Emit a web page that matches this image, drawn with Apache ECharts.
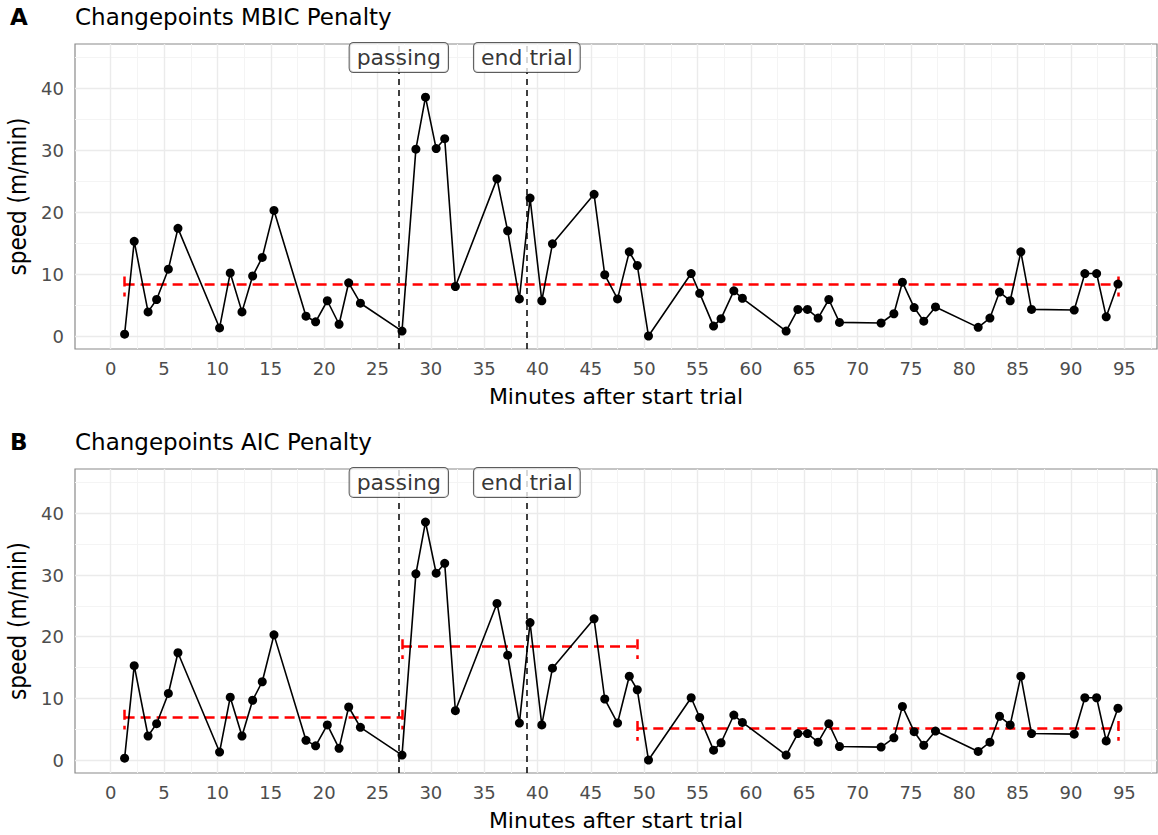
<!DOCTYPE html>
<html>
<head>
<meta charset="utf-8">
<script src="https://cdn.jsdelivr.net/npm/echarts@6/dist/echarts.min.js"></script>
<style>
  html, body { margin: 0; padding: 0; background: #fff; }
  #main { width: 1158px; height: 835px; }
</style>
</head>
<body>
<div id="main"></div>
<script>
// minutes after start and speed (m/min)
var minutes = [1.3, 2.2, 3.5, 4.3, 5.4, 6.3, 10.2, 11.2, 12.3, 13.3, 14.2, 15.3, 18.3, 19.2, 20.3, 21.4, 22.3, 23.4,
  27.3, 28.6, 29.5, 30.5, 31.3, 32.3, 36.2, 37.2, 38.3, 39.3, 40.4, 41.4, 45.3, 46.3, 47.5, 48.6, 49.35,
  50.4, 54.4, 55.2, 56.5, 57.2, 58.4, 59.2, 63.3, 64.4, 65.3, 66.3, 67.3, 68.3, 72.2, 73.4, 74.2, 75.3,
  76.2, 77.3, 81.3, 82.4, 83.3, 84.3, 85.3, 86.3, 90.3, 91.3, 92.4, 93.3, 94.4];
var speed = [0.3, 15.3, 3.9, 5.9, 10.8, 17.4, 1.3, 10.2, 3.9, 9.7, 12.7, 20.3, 3.2, 2.3, 5.7, 1.9, 8.6, 5.3,
  0.8, 30.2, 38.6, 30.3, 31.9, 8.0, 25.4, 17.0, 6.0, 22.3, 5.7, 14.9, 22.9, 9.9, 6.0, 13.6, 11.4,
  0.0, 10.1, 6.9, 1.6, 2.8, 7.3, 6.1, 0.8, 4.3, 4.3, 2.9, 5.9, 2.2, 2.1, 3.6, 8.7, 4.6,
  2.4, 4.7, 1.4, 2.9, 7.1, 5.7, 13.6, 4.3, 4.2, 10.1, 10.1, 3.1, 8.4];

// changepoint segments: [start, end, mean]
var mbicSegments = [[1.3, 94.4, 8.4]];
var aicSegments = [[1.3, 27.3, 6.95], [27.3, 49.35, 18.4], [49.35, 94.4, 5.15]];

var events = [{ name: 'passing', x: 27 }, { name: 'end trial', x: 39 }];
var labelY = 45;

var xTicks = [0, 5, 10, 15, 20, 25, 30, 35, 40, 45, 50, 55, 60, 65, 70, 75, 80, 85, 90, 95];
var xMinor = [2.5, 7.5, 12.5, 17.5, 22.5, 27.5, 32.5, 37.5, 42.5, 47.5, 52.5, 57.5, 62.5, 67.5, 72.5, 77.5, 82.5, 87.5, 92.5, 97.5];
var yTicks = [0, 10, 20, 30, 40];
var yMinor = [5, 15, 25, 35, 45];
var xRange = [-3.35, 98.06];
var yRange = [-2.1, 47.2];

var FONT = 'DejaVu Sans';
var NARROW = "'Liberation Sans Narrow', 'DejaVu Sans Condensed', sans-serif";
var chart = echarts.init(document.getElementById('main'), null, { renderer: 'svg' });

var pts = minutes.map(function (m, i) { return [m, speed[i]]; });

function gridLines(idx) {
  var d = [];
  xMinor.forEach(function (v) { d.push({ xAxis: v, lineStyle: { color: '#f4f4f4', width: 1, type: 'solid' } }); });
  yMinor.forEach(function (v) { d.push({ yAxis: v, lineStyle: { color: '#f4f4f4', width: 1, type: 'solid' } }); });
  xTicks.forEach(function (v) { d.push({ xAxis: v, lineStyle: { color: '#ebebeb', width: 1.4, type: 'solid' } }); });
  yTicks.forEach(function (v) { d.push({ yAxis: v, lineStyle: { color: '#ebebeb', width: 1.4, type: 'solid' } }); });
  return {
    type: 'line', xAxisIndex: idx, yAxisIndex: idx, data: [], z: 0, silent: true,
    markLine: { silent: true, symbol: 'none', label: { show: false }, animation: false, data: d }
  };
}

function segLines(idx, segs) {
  var d = [];
  segs.forEach(function (s) {
    d.push([{ coord: [s[0], s[2]] }, { coord: [s[1], s[2]] }]);
    d.push([{ coord: [s[0], s[2] + 1.2] }, { coord: [s[0], s[2] - 2.0] }]);
    d.push([{ coord: [s[1], s[2] + 1.2] }, { coord: [s[1], s[2] - 2.0] }]);
  });
  return {
    type: 'line', xAxisIndex: idx, yAxisIndex: idx, data: [], z: 5, silent: true,
    markLine: {
      silent: true, symbol: 'none', label: { show: false }, animation: false,
      lineStyle: { color: '#ff0000', width: 2.5, type: [10, 6] }, data: d
    }
  };
}

function eventLines(idx) {
  return {
    type: 'line', xAxisIndex: idx, yAxisIndex: idx, data: [], z: 3, silent: true,
    markLine: {
      silent: true, symbol: 'none', label: { show: false }, animation: false,
      lineStyle: { color: '#000', width: 1.5, type: [6, 5] },
      data: events.map(function (e) { return { xAxis: e.x }; })
    }
  };
}

function eventLabels(idx) {
  return {
    type: 'scatter', xAxisIndex: idx, yAxisIndex: idx, z: 10, symbolSize: 0, clip: false, silent: true,
    data: events.map(function (e) { return { value: [e.x, labelY], name: e.name }; }),
    label: {
      show: true, position: 'inside', formatter: '{b}',
      fontFamily: FONT, fontSize: 22, color: '#000', lineHeight: 24,
      backgroundColor: '#fff', borderColor: '#333', borderWidth: 1, borderRadius: 4,
      padding: [3, 7, 2, 7]
    }
  };
}

function dataSeries(idx) {
  return {
    type: 'line', xAxisIndex: idx, yAxisIndex: idx, z: 8, data: pts,
    symbol: 'circle', symbolSize: 9, showSymbol: true,
    lineStyle: { color: '#000', width: 1.6 },
    itemStyle: { color: '#000' }
  };
}

function xAxis(idx) {
  return {
    type: 'value', gridIndex: idx, min: xRange[0], max: xRange[1],
    name: 'Minutes after start trial', nameLocation: 'middle', nameGap: 36,
    nameTextStyle: { fontFamily: FONT, fontSize: 22, color: '#000' },
    axisLine: { show: false },
    splitLine: { show: false },
    axisTick: { show: true, customValues: xTicks, length: 5, lineStyle: { color: '#333' } },
    axisLabel: { customValues: xTicks, fontFamily: FONT, fontSize: 18, color: '#4d4d4d', margin: 10 }
  };
}

function yAxis(idx) {
  return {
    type: 'value', gridIndex: idx, min: yRange[0], max: yRange[1],
    name: 'speed (m/min)', nameLocation: 'middle', nameGap: 44, nameRotate: 90,
    nameTextStyle: { fontFamily: NARROW, fontSize: 24, color: '#000' },
    axisLine: { show: false },
    splitLine: { show: false },
    axisTick: { show: true, customValues: yTicks, length: 5, lineStyle: { color: '#333' } },
    axisLabel: { customValues: yTicks, fontFamily: FONT, fontSize: 18, color: '#4d4d4d', margin: 11 }
  };
}

var titleStyle = { fontFamily: FONT, fontSize: 23, fontWeight: 'normal', color: '#000' };
var tagStyle = { fontFamily: FONT, fontSize: 23, fontWeight: 'bold', color: '#000' };

var option = {
  animation: false,
  backgroundColor: '#fff',
  title: [
    { text: 'A', left: 10, top: 5, padding: 0, textStyle: tagStyle },
    { text: 'Changepoints MBIC Penalty', left: 75, top: 5, padding: 0, textStyle: titleStyle },
    { text: 'B', left: 10, top: 430, padding: 0, textStyle: tagStyle },
    { text: 'Changepoints AIC Penalty', left: 75, top: 430, padding: 0, textStyle: titleStyle }
  ],
  grid: [
    { left: 75, top: 44, width: 1082, height: 305, outerBoundsMode: 'none', show: true, borderColor: '#8a8a8a', borderWidth: 1.2, backgroundColor: '#fff' },
    { left: 75, top: 469, width: 1082, height: 304, outerBoundsMode: 'none', show: true, borderColor: '#8a8a8a', borderWidth: 1.2, backgroundColor: '#fff' }
  ],
  xAxis: [xAxis(0), xAxis(1)],
  yAxis: [yAxis(0), yAxis(1)],
  series: [
    gridLines(0), eventLines(0), segLines(0, mbicSegments), dataSeries(0), eventLabels(0),
    gridLines(1), eventLines(1), segLines(1, aicSegments), dataSeries(1), eventLabels(1)
  ]
};

chart.setOption(option);
window.addEventListener('resize', chart.resize);
</script>
</body>
</html>
